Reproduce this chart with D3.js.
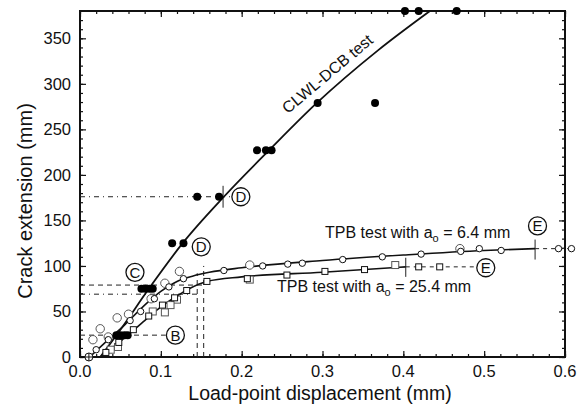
<!DOCTYPE html>
<html><head><meta charset="utf-8">
<script src="https://cdn.jsdelivr.net/npm/d3@7"></script>
<style>body{margin:0;background:#fff}svg{display:block}text{font-family:"Liberation Sans",Arial,sans-serif;fill:#111}</style>
</head><body>
<svg id="c" width="587" height="405"></svg>
<script>
// ---- data ----
const xTicks = [0.0,0.1,0.2,0.3,0.4,0.5,0.6];
const xTickLabels = ["0.0","0.1","0.2","0.3","0.4","0.5","0.6"];
const yTicks = [0,50,100,150,200,250,300,350];
const yTickLabels = ["0","50","100","150","200","250","300","350"];

// CLWL-DCB fitted curve
const clwlX = [0.025,0.05,0.086,0.127,0.178,0.235,0.293,0.369,0.433];
const clwlY = [0,30,76,125,176,228,279,337,380];
// CLWL-DCB data (solid dots)
const dotsX = [0.045,0.050,0.055,0.059, 0.076,0.081,0.086,0.090, 0.114,0.128, 0.145,0.172,0.202, 0.219,0.230,0.237, 0.294,0.365, 0.402,0.419,0.466];
const dotsY = [24,24,24,24, 75,75,75,75, 125,125, 176,176,176, 227,227,227, 279,279, 380,380,380];

// TPB a0 = 6.4 mm fitted curve
const tpb64X = [0.012,0.03,0.055,0.08,0.10,0.12,0.14,0.16,0.20,0.30,0.40,0.50,0.563];
const tpb64Y = [0,15,35,57,72,83,89,93,98,106,112,117,119];
const tpb64MarkX = [0.02,0.035,0.062,0.075,0.092,0.11,0.128,0.178,0.226,0.257,0.275,0.325,0.374,0.422,0.471,0.494,0.521];
const tpb64MarkY = [8,19,40,50,64,77,86,95,100,102,103,107,110,113,116,119,117];
const tpb64ScatterX = [0.016,0.025,0.046,0.105,0.123,0.035,0.06,0.088,0.21,0.47];
const tpb64ScatterY = [19,31,43,81,94,22,47,64,101,119];
const tpb64TailX = [0.592,0.608];
const tpb64TailY = [119,119];
const originMarkX = [0.011];
const originMarkY = [0];

// TPB a0 = 25.4 mm fitted curve
const tpb254X = [0.025,0.04,0.055,0.08,0.10,0.12,0.135,0.157,0.20,0.30,0.403];
const tpb254Y = [0,10,21,40,55,67,75,83,88,93,99];
const tpb254MarkX = [0.032,0.048,0.066,0.085,0.102,0.117,0.132,0.157,0.207,0.256,0.303,0.352];
const tpb254MarkY = [5,16,30,45,57,65,73,83,86,90,94,96];
const tpb254ScatterX = [0.047,0.105,0.12,0.09,0.112,0.038,0.21,0.39];
const tpb254ScatterY = [11,49,63,50,57,8,85,101];
const tpb254TailX = [0.419,0.445];
const tpb254TailY = [99,99];

// circled labels
const circLab = ["B","C","D","D","E","E"];
const circX = [0.118,0.068,0.150,0.199,0.566,0.502];
const circY = [24,93,121,176,144,98];

// ---- drawing ----
const svg = d3.select("#c");
const L=80, R=565, T=11, B=357;
const x = d3.scaleLinear().domain([0,0.6]).range([L,R]);
const y = d3.scaleLinear().domain([0,380]).range([B,T]);
const zip = (a,b)=>a.map((v,i)=>[v,b[i]]);

// axes with inward ticks
const xMinor = d3.range(0,0.6001,0.02);
const yMinor = d3.range(0,380,10);
function axisG(gen, tr){ return svg.append("g").attr("transform",tr).call(gen); }
const tickStyle = g=>{g.select(".domain").remove(); g.selectAll("line").attr("stroke","#111").attr("stroke-width",1.2); g.selectAll("text").remove();};
axisG(d3.axisBottom(x).tickValues(xMinor).tickSize(-3),`translate(0,${B})`).call(tickStyle);
axisG(d3.axisBottom(x).tickValues(xTicks).tickSize(-6),`translate(0,${B})`).call(tickStyle);
axisG(d3.axisTop(x).tickValues(xMinor).tickSize(-3),`translate(0,${T})`).call(tickStyle);
axisG(d3.axisTop(x).tickValues(xTicks).tickSize(-6),`translate(0,${T})`).call(tickStyle);
axisG(d3.axisLeft(y).tickValues(yMinor).tickSize(-3),`translate(${L},0)`).call(tickStyle);
axisG(d3.axisLeft(y).tickValues(yTicks).tickSize(-6),`translate(${L},0)`).call(tickStyle);
axisG(d3.axisRight(y).tickValues(yMinor).tickSize(-3),`translate(${R},0)`).call(tickStyle);
axisG(d3.axisRight(y).tickValues(yTicks).tickSize(-6),`translate(${R},0)`).call(tickStyle);

// tick labels
svg.append("g").selectAll("text").data(xTicks).join("text")
  .attr("x",d=>x(d)).attr("y",B+20).attr("text-anchor","middle").attr("font-size",16.5)
  .text((d,i)=>xTickLabels[i]);
svg.append("g").selectAll("text").data(yTicks).join("text")
  .attr("x",L-9).attr("y",d=>y(d)+6).attr("text-anchor","end").attr("font-size",16.5)
  .text((d,i)=>yTickLabels[i]);

// frame
svg.append("rect").attr("x",L).attr("y",T).attr("width",R-L).attr("height",B-T)
  .attr("fill","none").attr("stroke","#111").attr("stroke-width",2);

// axis titles
svg.append("text").attr("x",320).attr("y",400).attr("text-anchor","middle")
  .attr("font-size",19.5).text("Load-point displacement (mm)");
svg.append("text").attr("transform","translate(32,201) rotate(-90)").attr("text-anchor","middle")
  .attr("font-size",20).text("Crack extension (mm)");

// dashed guide lines
const guides = [
  {a:[0,176],b:[0.202,176],d:"5,4,1,4"},
  {a:[0.177,164],b:[0.177,188],d:null},
  {a:[0,79],b:[0.153,79],d:"5,4"},
  {a:[0,69],b:[0.145,69],d:"5,4,1,4"},
  {a:[0.145,0],b:[0.145,92],d:"5,4"},
  {a:[0.153,0],b:[0.153,100],d:"5,4"},
  {a:[0,24],b:[0.106,24],d:"5,4"},
  {a:[0.563,107],b:[0.563,129],d:null},
  {a:[0.563,119],b:[0.608,119],d:"4,4"},
  {a:[0.403,88],b:[0.403,109],d:null},
  {a:[0.403,99],b:[0.49,99],d:"4,4"}
];
svg.append("g").selectAll("line").data(guides).join("line")
  .attr("x1",d=>x(d.a[0])).attr("y1",d=>y(d.a[1])).attr("x2",d=>x(d.b[0])).attr("y2",d=>y(d.b[1]))
  .attr("stroke","#222").attr("stroke-width",1).attr("stroke-dasharray",d=>d.d);

// curves
const line = d3.line().x(d=>x(d[0])).y(d=>y(d[1])).curve(d3.curveMonotoneX);
svg.append("path").attr("d",line(zip(clwlX,clwlY))).attr("fill","none").attr("stroke","#111").attr("stroke-width",1.8);
svg.append("path").attr("d",line(zip(tpb64X,tpb64Y))).attr("fill","none").attr("stroke","#111").attr("stroke-width",1.6);
svg.append("path").attr("d",line(zip(tpb254X,tpb254Y))).attr("fill","none").attr("stroke","#111").attr("stroke-width",1.6);

// scatter (faint) points
svg.append("g").selectAll("circle").data(zip(tpb64ScatterX,tpb64ScatterY)).join("circle")
  .attr("cx",d=>x(d[0])).attr("cy",d=>y(d[1])).attr("r",4.2).attr("fill","#fff").attr("stroke","#555").attr("stroke-width",1);
svg.append("g").selectAll("rect").data(zip(tpb254ScatterX,tpb254ScatterY)).join("rect")
  .attr("x",d=>x(d[0])-3.5).attr("y",d=>y(d[1])-3.5).attr("width",7).attr("height",7).attr("fill","#fff").attr("stroke","#555").attr("stroke-width",1);

// curve markers
svg.append("g").selectAll("circle").data(zip(tpb64MarkX,tpb64MarkY).concat(zip(tpb64TailX,tpb64TailY))).join("circle")
  .attr("cx",d=>x(d[0])).attr("cy",d=>y(d[1])).attr("r",3.2).attr("fill","#fff").attr("stroke","#111").attr("stroke-width",1);
svg.append("g").selectAll("rect").data(zip(tpb254MarkX,tpb254MarkY).concat(zip(tpb254TailX,tpb254TailY))).join("rect")
  .attr("x",d=>x(d[0])-3).attr("y",d=>y(d[1])-3).attr("width",6).attr("height",6).attr("fill","#fff").attr("stroke","#111").attr("stroke-width",1);

// crossed circle at origin
const om = svg.append("g").selectAll("g").data(zip(originMarkX,originMarkY)).join("g")
  .attr("transform",d=>`translate(${x(d[0])},${y(d[1])})`);
om.append("circle").attr("r",4).attr("fill","#fff").attr("stroke","#111").attr("stroke-width",1);
om.append("path").attr("d","M-4,0H4M0,-4V4").attr("stroke","#111").attr("stroke-width",1);

// solid dots
svg.append("g").selectAll("circle").data(zip(dotsX,dotsY)).join("circle")
  .attr("cx",d=>x(d[0])).attr("cy",d=>y(d[1])).attr("r",4).attr("fill","#000");

// circled labels
const cl = svg.append("g").selectAll("g").data(circLab).join("g")
  .attr("transform",(d,i)=>`translate(${x(circX[i])},${y(circY[i])})`);
cl.append("circle").attr("r",9).attr("fill","#fff").attr("stroke","#111").attr("stroke-width",1.3);
cl.append("text").attr("text-anchor","middle").attr("y",5.5).attr("font-size",15).text(d=>d);

// annotations
const t1 = svg.append("text").attr("x",325).attr("y",238).attr("font-size",16);
t1.append("tspan").text("TPB test with a");
t1.append("tspan").attr("dy",4).attr("font-size",11).text("o");
t1.append("tspan").attr("dy",-4).text(" = 6.4 mm");
const t2 = svg.append("text").attr("x",277).attr("y",292).attr("font-size",16);
t2.append("tspan").text("TPB test with a");
t2.append("tspan").attr("dy",4).attr("font-size",11).text("o");
t2.append("tspan").attr("dy",-4).text(" = 25.4 mm");
svg.append("text").attr("transform","translate(331,78) rotate(-40)").attr("text-anchor","middle")
  .attr("font-size",16).text("CLWL-DCB test");
</script>
</body></html>
